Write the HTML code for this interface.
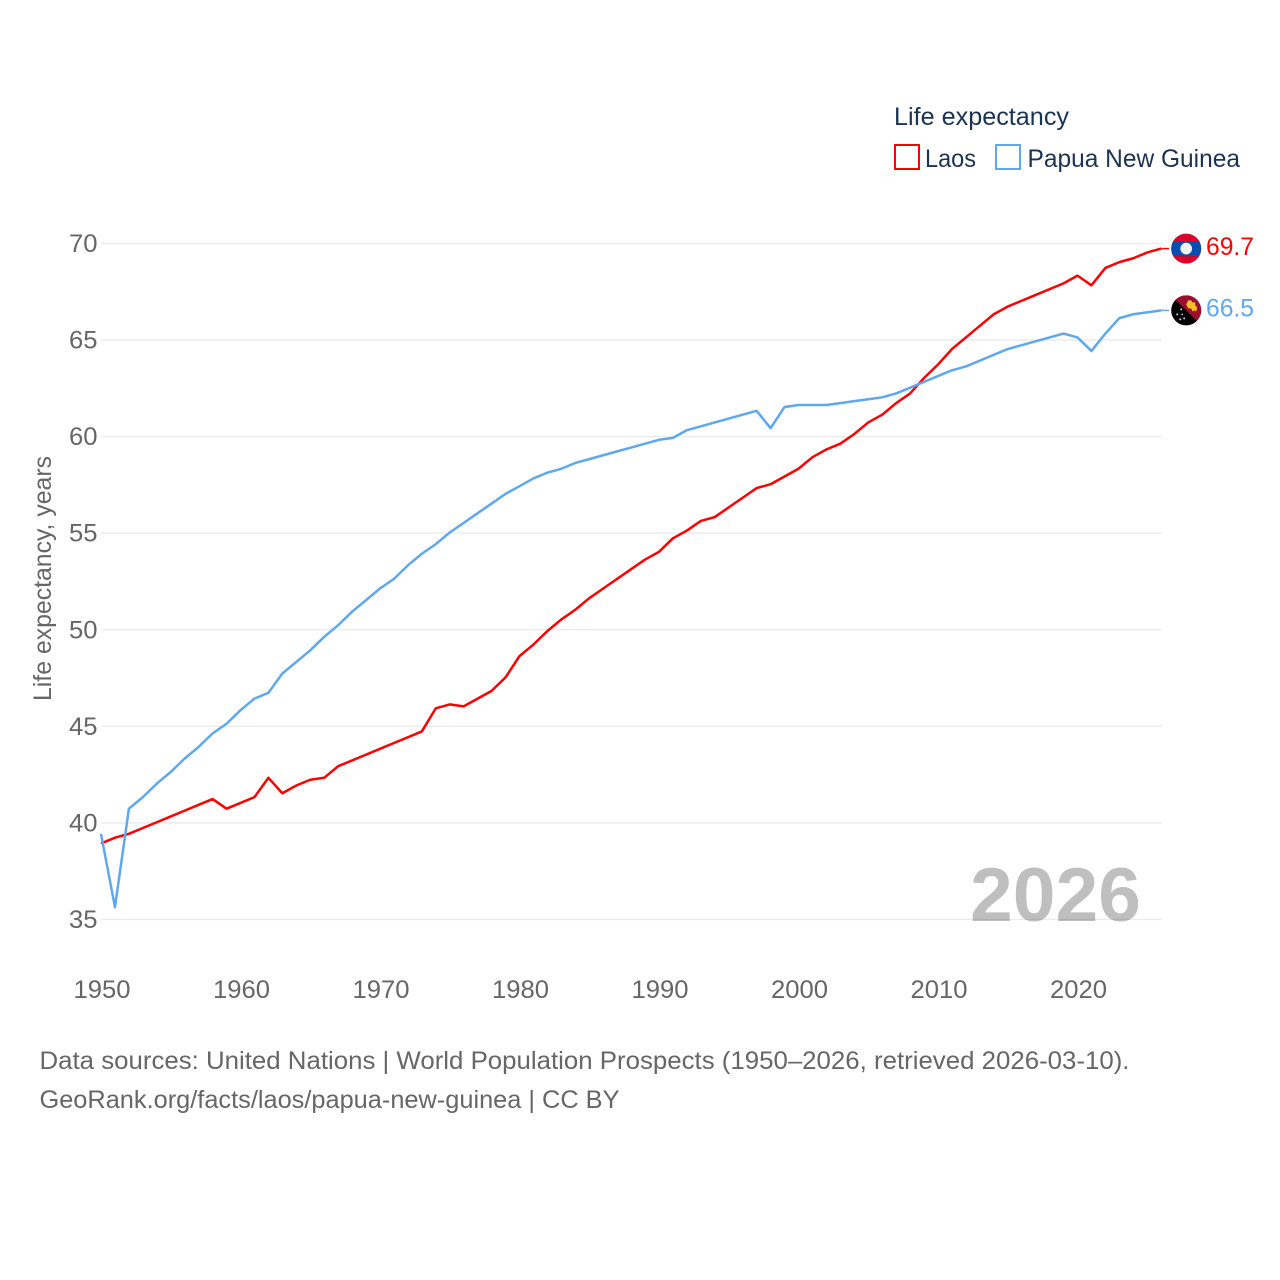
<!DOCTYPE html>
<html lang="en">
<head>
<meta charset="utf-8">
<title>Life expectancy: Laos and Papua New Guinea</title>
<style>
html,body{margin:0;padding:0;background:#fff;}
svg{display:block;font-family:"Liberation Sans",sans-serif;}
</style>
</head>
<body>
<svg id="chart" xmlns="http://www.w3.org/2000/svg" width="1280" height="1280" viewBox="0 0 1280 1280">
  <rect x="0" y="0" width="1280" height="1280" fill="#ffffff"/>
  <defs>
    <clipPath id="flag-clip-a"><circle cx="0" cy="0" r="15"/></clipPath>
  </defs>
  <g id="grid"></g>
  <g id="yticks"></g>
  <g id="xticks"></g>
  <text transform="translate(51,701) rotate(-90)" font-size="25" fill="#666666" textLength="245" lengthAdjust="spacingAndGlyphs">Life expectancy, years</text>
  <text x="970" y="921" font-size="76" font-weight="700" fill="#000000" fill-opacity="0.25" textLength="171" lengthAdjust="spacingAndGlyphs">2026</text>
  <path id="line-laos" fill="none" stroke="#ff0000" stroke-width="2.5" stroke-linejoin="round"/>
  <path id="line-png" fill="none" stroke="#5fa8ee" stroke-width="2.5" stroke-linejoin="round"/>
  <line id="connector-laos" stroke="#ff0000" stroke-width="1.5"/>
  <line id="connector-png" stroke="#5fa8ee" stroke-width="1.5"/>

  <g id="flag-laos">
    <g clip-path="url(#flag-clip-a)">
      <rect x="-16" y="-16" width="32" height="32" fill="#d9002c"/>
      <rect x="-16" y="-7.5" width="32" height="15" fill="#0a4fb0"/>
      <circle cx="0" cy="0" r="5.8" fill="#f2f2f2"/>
    </g>
  </g>
  <g id="flag-png">
    <g clip-path="url(#flag-clip-a)">
      <rect x="-16" y="-16" width="32" height="32" fill="#000000"/>
      <polygon points="-16,-16 16,-16 16,16" fill="#9a0f2c"/>
      <path d="M0,-6 L2,-10 L5,-10 L6,-8 L9,-8 L9,-5 L11,-3 L10,1 L8,0 L6,1 L5,-2 L2,-2 Z" fill="#f5c02a"/>
      <circle cx="-5" cy="-1" r="1" fill="#c9d3e6"/>
      <circle cx="-9" cy="4" r="1" fill="#c9d3e6"/>
      <circle cx="-4" cy="4" r="0.9" fill="#c9d3e6"/>
      <circle cx="-2" cy="8" r="1" fill="#c9d3e6"/>
      <circle cx="-6" cy="9" r="1" fill="#c9d3e6"/>
    </g>
  </g>
  <text id="value-laos" font-size="25" fill="#ff0000" textLength="48" lengthAdjust="spacingAndGlyphs">69.7</text>
  <text id="value-png" font-size="25" fill="#5fa8ee" textLength="48" lengthAdjust="spacingAndGlyphs">66.5</text>

  <g>
    <text x="894" y="125" font-size="25" fill="#1a3353" textLength="175" lengthAdjust="spacingAndGlyphs">Life expectancy</text>
    <g>
      <rect x="895" y="145" width="24" height="24" fill="#ffffff" stroke="#ff0000" stroke-width="2"/>
      <text x="925" y="167" font-size="25" fill="#1a3353" textLength="51" lengthAdjust="spacingAndGlyphs">Laos</text>
    </g>
    <g>
      <rect x="996" y="145" width="24" height="24" fill="#ffffff" stroke="#5fa8ee" stroke-width="2"/>
      <text x="1027.5" y="167" font-size="25" fill="#1a3353" textLength="212.5" lengthAdjust="spacingAndGlyphs">Papua New Guinea</text>
    </g>
  </g>

  <text x="39.5" y="1069" font-size="25" fill="#666666" textLength="1090" lengthAdjust="spacingAndGlyphs">Data sources: United Nations | World Population Prospects (1950–2026, retrieved 2026-03-10).</text>
  <text x="39.5" y="1108" font-size="25" fill="#666666" textLength="580" lengthAdjust="spacingAndGlyphs">GeoRank.org/facts/laos/papua-new-guinea | CC BY</text>
</svg>
<script>
const startYear = 1950;
const yTickValues = [35, 40, 45, 50, 55, 60, 65, 70];
const xTickValues = [1950, 1960, 1970, 1980, 1990, 2000, 2010, 2020];
const laosValues = [
  38.9, 39.2, 39.4, 39.7, 40.0, 40.3, 40.6, 40.9, 41.2, 40.7,
  41.0, 41.3, 42.3, 41.5, 41.9, 42.2, 42.3, 42.9, 43.2, 43.5,
  43.8, 44.1, 44.4, 44.7, 45.9, 46.1, 46.0, 46.4, 46.8, 47.5,
  48.6, 49.2, 49.9, 50.5, 51.0, 51.6, 52.1, 52.6, 53.1, 53.6,
  54.0, 54.7, 55.1, 55.6, 55.8, 56.3, 56.8, 57.3, 57.5, 57.9,
  58.3, 58.9, 59.3, 59.6, 60.1, 60.7, 61.1, 61.7, 62.2, 63.0,
  63.7, 64.5, 65.1, 65.7, 66.3, 66.7, 67.0, 67.3, 67.6, 67.9,
  68.3, 67.8, 68.7, 69.0, 69.2, 69.5, 69.7
];
const pngValues = [
  39.4, 35.6, 40.7, 41.3, 42.0, 42.6, 43.3, 43.9, 44.6, 45.1,
  45.8, 46.4, 46.7, 47.7, 48.3, 48.9, 49.6, 50.2, 50.9, 51.5,
  52.1, 52.6, 53.3, 53.9, 54.4, 55.0, 55.5, 56.0, 56.5, 57.0,
  57.4, 57.8, 58.1, 58.3, 58.6, 58.8, 59.0, 59.2, 59.4, 59.6,
  59.8, 59.9, 60.3, 60.5, 60.7, 60.9, 61.1, 61.3, 60.4, 61.5,
  61.6, 61.6, 61.6, 61.7, 61.8, 61.9, 62.0, 62.2, 62.5, 62.8,
  63.1, 63.4, 63.6, 63.9, 64.2, 64.5, 64.7, 64.9, 65.1, 65.3,
  65.1, 64.4, 65.3, 66.1, 66.3, 66.4, 66.5
];

const NS = 'http://www.w3.org/2000/svg';
function xScale(year) { return 101.5 + (year - 1950) * 13.95; }
function yScale(v) { return 243.5 + (70 - v) * 19.314; }
function lineX(year) { return xScale(year) - 0.5; }
function lineY(v) { return yScale(v) - 0.7; }

const gridGroup = document.getElementById('grid');
const yGroup = document.getElementById('yticks');
const xGroup = document.getElementById('xticks');

yTickValues.forEach(function (v) {
  const line = document.createElementNS(NS, 'line');
  
  
  line.setAttribute('x1', 101);
  line.setAttribute('x2', 1162);
  line.setAttribute('y1', yScale(v));
  line.setAttribute('y2', yScale(v));
  line.setAttribute('stroke', '#ebebeb');
  line.setAttribute('stroke-width', '1.3');
  gridGroup.appendChild(line);

  const label = document.createElementNS(NS, 'text');
  
  
  label.setAttribute('x', 69);
  label.setAttribute('y', yScale(v) + 8.5);
  label.setAttribute('font-size', '25');
  label.setAttribute('fill', '#666666');
  label.setAttribute('textLength', '28.5');
  label.setAttribute('lengthAdjust', 'spacingAndGlyphs');
  label.textContent = String(v);
  yGroup.appendChild(label);
});

xTickValues.forEach(function (year) {
  const label = document.createElementNS(NS, 'text');
  
  
  label.setAttribute('x', xScale(year) - 28);
  label.setAttribute('y', 998);
  label.setAttribute('font-size', '25');
  label.setAttribute('fill', '#666666');
  label.setAttribute('textLength', '57');
  label.setAttribute('lengthAdjust', 'spacingAndGlyphs');
  label.textContent = String(year);
  xGroup.appendChild(label);
});

function linePath(values) {
  return values.map(function (v, i) {
    return (i === 0 ? 'M' : 'L') + lineX(startYear + i).toFixed(2) + ' ' + lineY(v).toFixed(2);
  }).join(' ');
}
document.getElementById('line-laos').setAttribute('d', linePath(laosValues));
document.getElementById('line-png').setAttribute('d', linePath(pngValues));

function placeEnd(flagId, valueId, connectorId, values) {
  const last = values[values.length - 1];
  const yEnd = lineY(last);
  const xEnd = lineX(startYear + values.length - 1);
  const c = document.getElementById(connectorId);
  c.setAttribute('x1', xEnd);
  c.setAttribute('x2', 1169);
  c.setAttribute('y1', yEnd);
  c.setAttribute('y2', yEnd);
  document.getElementById(flagId).setAttribute('transform', 'translate(1186.2,' + yEnd + ')');
  const t = document.getElementById(valueId);
  t.setAttribute('x', 1206);
  t.setAttribute('y', yEnd + 6.2);
  t.textContent = last.toFixed(1);
}
placeEnd('flag-laos', 'value-laos', 'connector-laos', laosValues);
placeEnd('flag-png', 'value-png', 'connector-png', pngValues);
</script>
</body>
</html>
